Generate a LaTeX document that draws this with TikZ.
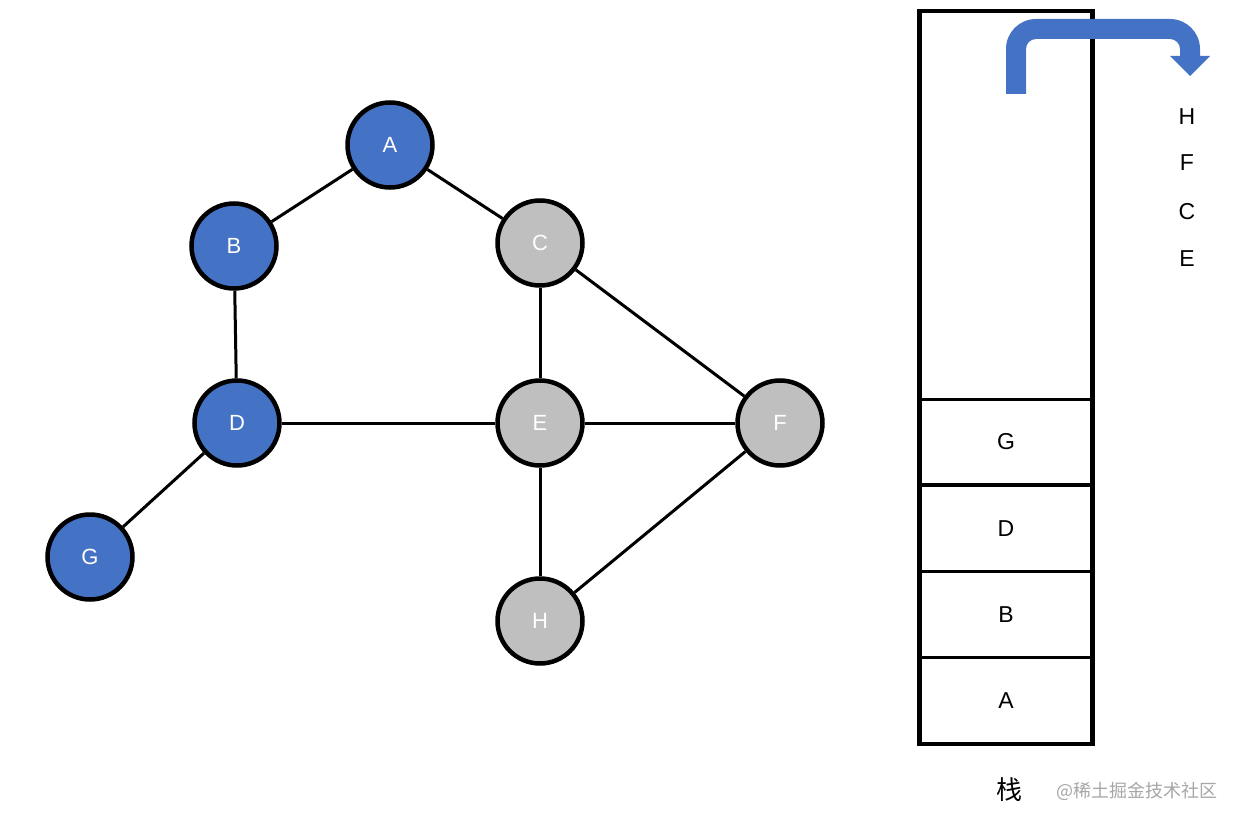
\documentclass[tikz,border=0pt]{standalone}
\usepackage{fontspec}
\setmainfont{Liberation Sans}
\newfontfamily\cjk{Noto Sans CJK SC}
\definecolor{nodeblue}{HTML}{4472C4}
\definecolor{nodegray}{HTML}{BFBFBF}
\definecolor{wmgray}{HTML}{A6A6A6}
\begin{document}
\begin{tikzpicture}[x=1pt,y=-1pt,
  vtx/.style={circle,draw=black,line width=4.5pt,minimum size=85pt,inner sep=0pt,text=white,font=\fontsize{22}{26}\selectfont},
  visited/.style={vtx,fill=nodeblue},
  unvisited/.style={vtx,fill=nodegray},
  edge/.style={line width=3pt,black},
  cell/.style={font=\fontsize{23}{27}\selectfont,text=black},
  outlbl/.style={font=\fontsize{23}{27}\selectfont,text=black}]
\useasboundingbox (0,0) rectangle (1240,824);
% graph nodes
\node[visited]   (A) at (390,145) {A};
\node[visited]   (B) at (234,246) {B};
\node[unvisited] (C) at (540,243) {C};
\node[visited]   (D) at (237,423) {D};
\node[unvisited] (E) at (540,423) {E};
\node[unvisited] (F) at (780,423) {F};
\node[visited]   (G) at (90,557)  {G};
\node[unvisited] (H) at (540,621) {H};
\draw[edge] (A) -- (B);
\draw[edge] (A) -- (C);
\draw[edge] (B) -- (D);
\draw[edge] (D) -- (E);
\draw[edge] (D) -- (G);
\draw[edge] (C) -- (E);
\draw[edge] (C) -- (F);
\draw[edge] (E) -- (F);
\draw[edge] (E) -- (H);
\draw[edge] (F) -- (H);
% stack
\node[draw=black,line width=4.5pt,minimum width=173pt,minimum height=733pt,inner sep=0pt] (stack) at (1006,377.5) {};
\coordinate (s1l) at (919,399); \coordinate (s1r) at (1093,399);
\coordinate (s2l) at (919,485); \coordinate (s2r) at (1093,485);
\coordinate (s3l) at (919,571); \coordinate (s3r) at (1093,571);
\coordinate (s4l) at (919,657); \coordinate (s4r) at (1093,657);
\draw[line width=3pt] (s1l) -- (s1r);
\draw[line width=4pt] (s2l) -- (s2r);
\draw[line width=3pt] (s3l) -- (s3r);
\draw[line width=3pt] (s4l) -- (s4r);
\node[cell] (sg) at (1006,442) {G};
\node[cell] (sd) at (1006,529) {D};
\node[cell] (sb) at (1006,615) {B};
\node[cell] (sa) at (1006,701) {A};
% bent arrow
\fill[nodeblue] (1006,94) -- (1006,49) .. controls (1006,32.4) and (1019.4,19) .. (1036,19)
  -- (1170,19) .. controls (1186.6,19) and (1200,32.4) .. (1200,49)
  -- (1200,56) -- (1210,56) -- (1190,76) -- (1170,56) -- (1180,56) -- (1180,49)
  .. controls (1180,43.5) and (1175.5,39) .. (1170,39)
  -- (1036,39) .. controls (1030.5,39) and (1026,43.5) .. (1026,49)
  -- (1026,94) -- cycle;
% popped labels
\node[outlbl] (oh) at (1187,117) {H};
\node[outlbl] (of) at (1187,163) {F};
\node[outlbl] (oc) at (1187,212) {C};
\node[outlbl] (oe) at (1187,259) {E};
% captions
\node[font=\cjk\fontsize{26}{30}\selectfont] (cap) at (1009,790) {栈};
\node[font=\cjk\fontsize{18}{22}\selectfont,text=wmgray,anchor=west,inner sep=0pt] (wm) at (1056,791) {@稀土掘金技术社区};
\end{tikzpicture}
\end{document}
